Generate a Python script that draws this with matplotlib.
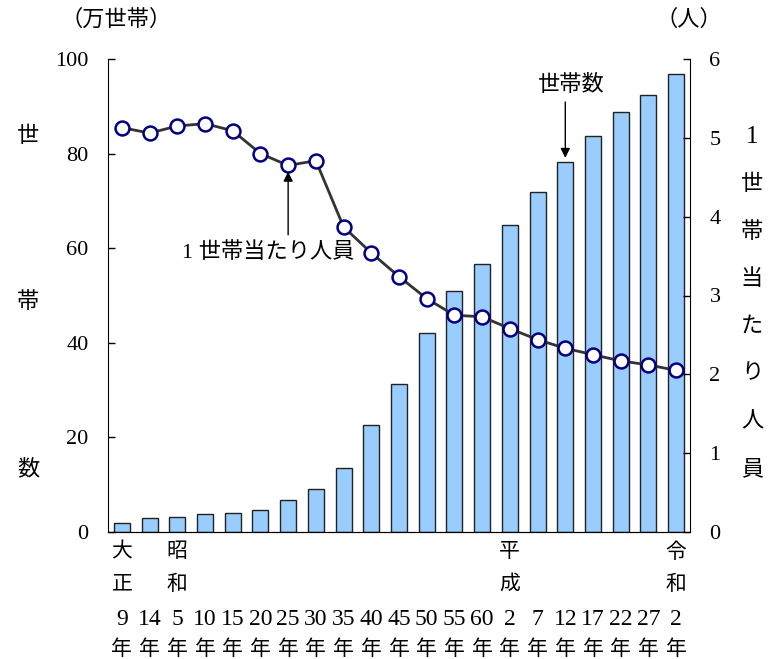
import matplotlib.pyplot as plt
import matplotlib.transforms as mtransforms

plt.rcParams['font.family'] = ['Liberation Serif', 'Noto Sans CJK JP']

# 年次（和暦）
era_top = ['大', '', '昭', '', '', '', '', '', '', '', '', '', '', '', '平', '', '', '', '', '', '令']
era_bot = ['正', '', '和', '', '', '', '', '', '', '', '', '', '', '', '成', '', '', '', '', '', '和']
years = ['9', '14', '5', '10', '15', '20', '25', '30', '35', '40', '45', '50', '55', '60',
         '2', '7', '12', '17', '22', '27', '2']

# 世帯数（万世帯）
households = [2.0, 2.9, 3.2, 3.8, 4.0, 4.6, 6.8, 9.1, 13.5, 22.6, 31.2, 42.0, 51.0, 56.7,
              64.8, 71.9, 78.3, 83.8, 88.7, 92.3, 96.8]
# 1世帯当たり人員（人）
persons = [5.13, 5.06, 5.15, 5.18, 5.09, 4.80, 4.65, 4.71, 3.87, 3.54, 3.24, 2.96, 2.75,
           2.73, 2.58, 2.44, 2.33, 2.25, 2.17, 2.12, 2.05]

W, H = 768, 659
fig = plt.figure(figsize=(W / 100, H / 100), dpi=100)
ax = fig.add_axes([108 / W, 1 - 532 / H, 582 / W, 473 / H])
ax2 = ax.twinx()

x = list(range(len(years)))
ax.bar(x, households, width=0.58, color='#99CCFF', edgecolor='#222222', linewidth=1.0, zorder=2)
ax.set_xlim(-0.5, len(years) - 0.5)
ax.set_ylim(0, 100)
ax.set_yticks([0, 20, 40, 60, 80, 100])
ax.set_xticks([])

ax2.plot(x, persons, color='#333333', linewidth=2, marker='o', markersize=10,
         markerfacecolor='white', markeredgecolor='#000080', markeredgewidth=1.8, zorder=3)
ax2.set_ylim(0, 6)
ax2.set_yticks([0, 1, 2, 3, 4, 5, 6])

for a in (ax, ax2):
    a.spines['top'].set_visible(False)
    a.tick_params(axis='y', direction='in', length=5, width=1, labelsize=16, pad=14)
ax2.spines['left'].set_visible(False)
ax.spines['right'].set_visible(False)

# 横軸の年次ラベル（4段）
trans = mtransforms.blended_transform_factory(ax.transData, ax.transAxes)
rows = [(era_top, -0.044, 15), (era_bot, -0.112, 15), (years, -0.184, 17),
        (['年'] * len(years), -0.249, 15)]
for labels, yy, fs in rows:
    for i, s in enumerate(labels):
        if s:
            ax.text(i, yy, s, transform=trans, ha='center', va='center', fontsize=fs)

# 単位
fig.text(116 / W, 1 - 20 / H, '（万世帯）', ha='center', va='center', fontsize=16)
fig.text(689 / W, 1 - 20 / H, '（人）', ha='center', va='center', fontsize=16)

# 縦書きの軸ラベル
for s, yp in zip('世帯数', [137, 303, 470]):
    fig.text(28 / W, 1 - yp / H, s, ha='center', va='center', fontsize=16)
right_label = ['1', '世', '帯', '当', 'た', 'り', '人', '員']
for i, s in enumerate(right_label):
    fs = 18 if s == '1' else 16
    fig.text(752 / W, 1 - (137 + i * 47.6) / H, s, ha='center', va='center', fontsize=fs)

# 注記
arrow = dict(arrowstyle='-|>', color='black', lw=1, mutation_scale=14, shrinkA=0, shrinkB=0)
ax2.annotate('', xy=(16, 79.1 * 0.06), xytext=(16, 90.9 * 0.06), arrowprops=arrow, zorder=5)
ax2.text(16.2, 94.5 * 0.06, '世帯数', ha='center', va='center', fontsize=16)
ax2.annotate('', xy=(6, 4.57), xytext=(6, 3.77), arrowprops=arrow, zorder=5)
ax2.text(5.3, 3.54, '1 世帯当たり人員', ha='center', va='center', fontsize=16)

fig.savefig('out.png', dpi=100)
